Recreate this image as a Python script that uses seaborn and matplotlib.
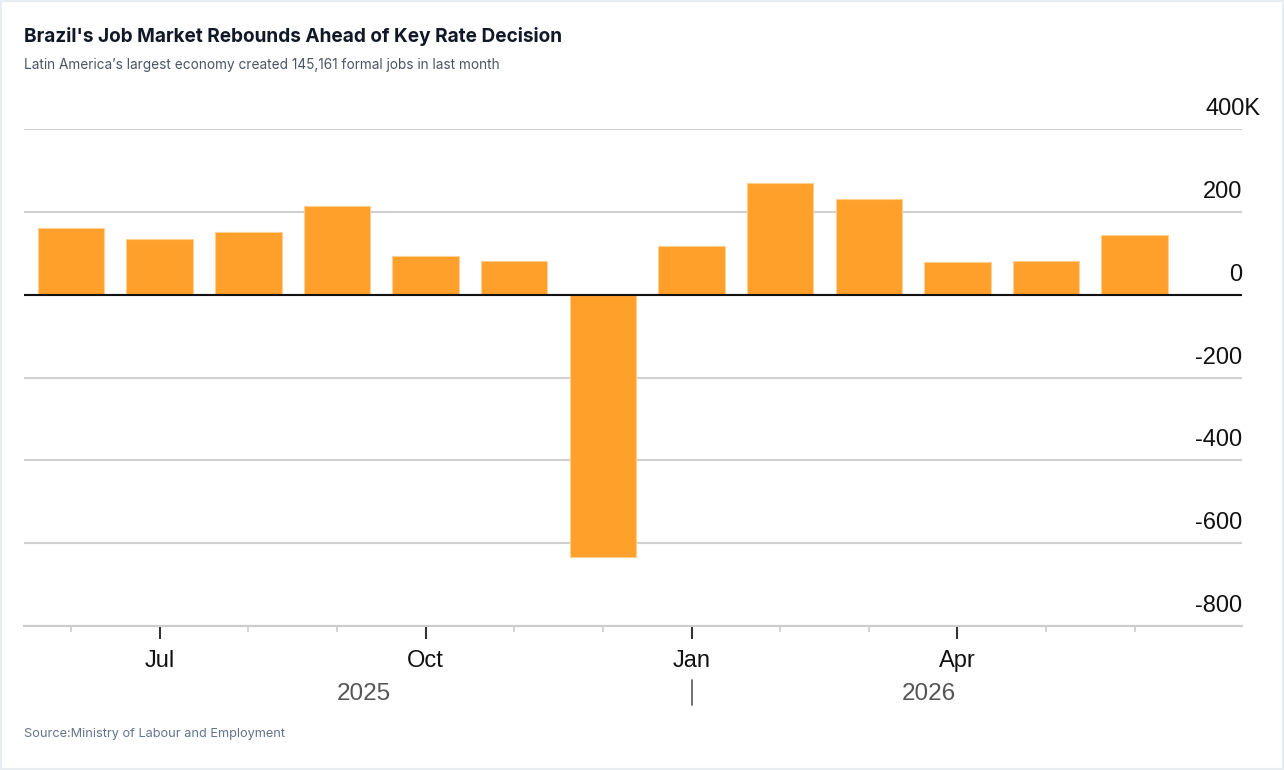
import matplotlib
matplotlib.use("Agg")
import matplotlib.pyplot as plt
import matplotlib.transforms as mtransforms
from matplotlib.patches import Rectangle
import seaborn as sns
import pandas as pd

# ---- data ----
periods = ["2025-06", "2025-07", "2025-08", "2025-09", "2025-10", "2025-11", "2025-12",
           "2026-01", "2026-02", "2026-03", "2026-04", "2026-05", "2026-06"]
jobs_k = [162, 134, 152, 214, 93, 82, -634, 118, 269, 230, 79, 82, 145.161]
month_labels = ["Jul", "Oct", "Jan", "Apr"]
month_label_periods = ["2025-07", "2025-10", "2026-01", "2026-04"]
year_labels = ["2025", "2026"]
y_ticks = [400, 200, 0, -200, -400, -600, -800]
y_tick_labels = ["400K", "200", "0", "-200", "-400", "-600", "-800"]

title = "Brazil's Job Market Rebounds Ahead of Key Rate Decision"
subtitle = "Latin America\u2019s largest economy created 145,161 formal jobs in last month"
source = "Source:Ministry of Labour and Employment"

df = pd.DataFrame({"period": periods, "jobs": jobs_k})

sns.set_theme(style="white")
plt.rcParams["font.family"] = ["Liberation Sans", "DejaVu Sans"]

W, H = 1284, 770
fig = plt.figure(figsize=(W / 100, H / 100), dpi=100)
fig.patch.set_facecolor("white")
ax = fig.add_axes([24 / W, 1 - 626 / H, (1242 - 24) / W, (626 - 129) / H])

sns.barplot(data=df, x="period", y="jobs", order=periods, color="#ffa02a",
            width=0.75, saturation=1, edgecolor="#ffcf8f", linewidth=0.8, ax=ax, zorder=3)

ax.set_xlim(-0.53, 13.21)
ax.set_ylim(-800, 400)
ax.set_xlabel("")
ax.set_ylabel("")

# gridlines
ax.set_yticks(y_ticks)
ax.set_yticklabels([])
ax.tick_params(axis="y", length=0)
ax.grid(axis="y", color="#d0d0d0", linewidth=1.5, zorder=0)
ax.axhline(0, color="#111111", linewidth=1.5, zorder=4)

for s in ["top", "left", "right"]:
    ax.spines[s].set_visible(False)
ax.spines["bottom"].set_color("#cccccc")
ax.spines["bottom"].set_linewidth(1.5)

# y labels above gridlines, right aligned (the unit suffix hangs past the edge)
for v, lab in zip(y_ticks, y_tick_labels):
    dx = 18 if lab.endswith("K") else 0
    off = mtransforms.offset_copy(ax.transData, fig=fig, x=0, y=9, units="dots")
    blend = mtransforms.blended_transform_factory(ax.transAxes, off)
    t = ax.text(1.0, v, lab, transform=blend, ha="right", va="bottom",
                fontsize=17, color="#111111")
    if dx:
        t.set_transform(mtransforms.offset_copy(blend, fig=fig, x=dx, y=0, units="dots"))

# x ticks
pos = list(range(len(periods)))
major = [periods.index(p) for p in month_label_periods]
minor = [p for p in pos if p not in major]
ax.set_xticks(major)
ax.set_xticklabels(month_labels, fontsize=17, color="#111111")
ax.set_xticks(minor, minor=True)
ax.tick_params(axis="x", which="major", length=9, width=1.5, color="#333333",
               direction="out", pad=8, bottom=True)
ax.tick_params(axis="x", which="minor", length=4.5, width=1.2, color="#cccccc",
               direction="out", bottom=True)

# year labels
yblend = mtransforms.blended_transform_factory(ax.transData, fig.transFigure)
ax.text(3.30, 1 - 694 / H, year_labels[0], transform=yblend, ha="center", va="center",
        fontsize=17.5, color="#555555")
ax.text(9.68, 1 - 694 / H, year_labels[1], transform=yblend, ha="center", va="center",
        fontsize=17.5, color="#555555")
ax.plot([7, 7], [1 - 680 / H, 1 - 705 / H], transform=yblend, color="#666666",
        linewidth=1.3, clip_on=False)

# titles
fig.text(24 / W, 1 - 36 / H, title, fontsize=13.7, fontweight="bold", color="#111827",
         ha="left", va="center", family=["Inter", "DejaVu Sans"])
fig.text(24 / W, 1 - 65 / H, subtitle, fontsize=9.8, color="#4b5563",
         ha="left", va="center", family=["Inter", "DejaVu Sans"])
fig.text(24 / W, 1 - 734 / H, source, fontsize=9.2, color="#64748b",
         ha="left", va="center", family=["Inter", "DejaVu Sans"])

# outer border
fig.patches.append(Rectangle((0, 0), 1, 1, transform=fig.transFigure, fill=False,
                             edgecolor="#e8edf2", linewidth=3, zorder=10))

fig.savefig("out.png", dpi=100, facecolor="white")
